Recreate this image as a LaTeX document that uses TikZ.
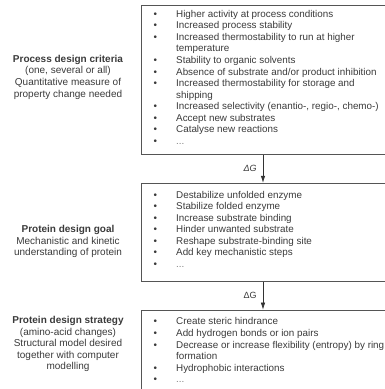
\documentclass[tikz,border=0pt]{standalone}
\usepackage{fontspec}
\setmainfont{Liberation Sans}
\usetikzlibrary{positioning,arrows.meta}
\definecolor{txtgray}{HTML}{3A3A3A}
\definecolor{boxgray}{HTML}{555555}
\tikzset{design box/.style={draw=boxgray,line width=0.8pt,anchor=north west,
minimum width=256pt,inner sep=0pt},
list text/.style={align=left,inner sep=0pt,text=txtgray,
font=\fontsize{9.85}{11.55}\selectfont},
side label/.style={align=center,anchor=north,inner sep=0pt,text=txtgray,
font=\fontsize{10}{11.55}\selectfont},
flow/.style={draw=black!80,line width=0.6pt,-{Latex[length=7pt,width=4.5pt]}},
dg label/.style={text=txtgray,font=\fontsize{9}{10}\selectfont,inner sep=0pt}}
\newcommand{\itm}[1]{\makebox[35pt][l]{\hspace{12.3pt}\textbullet}#1}
\newcommand{\cont}[1]{\hspace*{35pt}#1}
\newcommand{\etc}{\textcolor{gray}{...}}

\begin{document}
\begin{tikzpicture}[x=1pt,y=-1pt]
    \useasboundingbox (0,0) rectangle (385,389);
    \coordinate (arrowx) at (263,0);

    \node[design box,minimum height=149pt] (box1) at (141,5) {};
    \node[design box,minimum height=98pt] (box2) [below=28pt of box1] {};
    \node[design box,minimum height=80pt] (box3) [below=28pt of box2] {};

    \node[list text] (list1) [below right=5pt and 0pt of box1.north west] {%
        \itm{Higher activity at process conditions}\\
        \itm{Increased process stability}\\
        \itm{Increased thermostability to run at higher}\\
        \cont{temperature}\\
        \itm{Stability to organic solvents}\\
        \itm{Absence of substrate and/or product inhibition}\\
        \itm{Increased thermostability for storage and}\\
        \cont{shipping}\\
        \itm{Increased selectivity (enantio-, regio-, chemo-)}\\
        \itm{Accept new substrates}\\
        \itm{Catalyse new reactions}\\
        \itm{\etc}};
    \node[list text] (list2) [below right=8pt and 0pt of box2.north west] {%
        \itm{Destabilize unfolded enzyme}\\
        \itm{Stabilize folded enzyme}\\
        \itm{Increase substrate binding}\\
        \itm{Hinder unwanted substrate}\\
        \itm{Reshape substrate-binding site}\\
        \itm{Add key mechanistic steps}\\
        \itm{\etc}};
    \node[list text] (list3) [below right=8pt and 0pt of box3.north west] {%
        \itm{Create steric hindrance}\\
        \itm{Add hydrogen bonds or ion pairs}\\
        \itm{Decrease or increase flexibility (entropy) by ring}\\
        \cont{formation}\\
        \itm{Hydrophobic interactions}\\
        \itm{\etc}};

    \node[side label] (crit) at (68,55) {\textbf{Process design criteria}\\
        (one, several or all)\\Quantitative measure of\\property change needed};
    \node[side label] (goal) at (68,225) {\textbf{Protein design goal}\\
        Mechanistic and kinetic\\understanding of protein};
    \node[side label] (strat) at (68,316) {\textbf{Protein design strategy}\\
        (amino-acid changes)\\Structural model desired\\together with computer\\modelling};

    \draw[flow] (box1.south -| arrowx) -- node[dg label,left=6pt] (dg1) {\textit{ΔG}}
        (box2.north -| arrowx);
    \draw[flow] (box2.south -| arrowx) -- node[dg label,left=6pt] (dg2) {ΔG}
        (box3.north -| arrowx);
\end{tikzpicture}
\end{document}
